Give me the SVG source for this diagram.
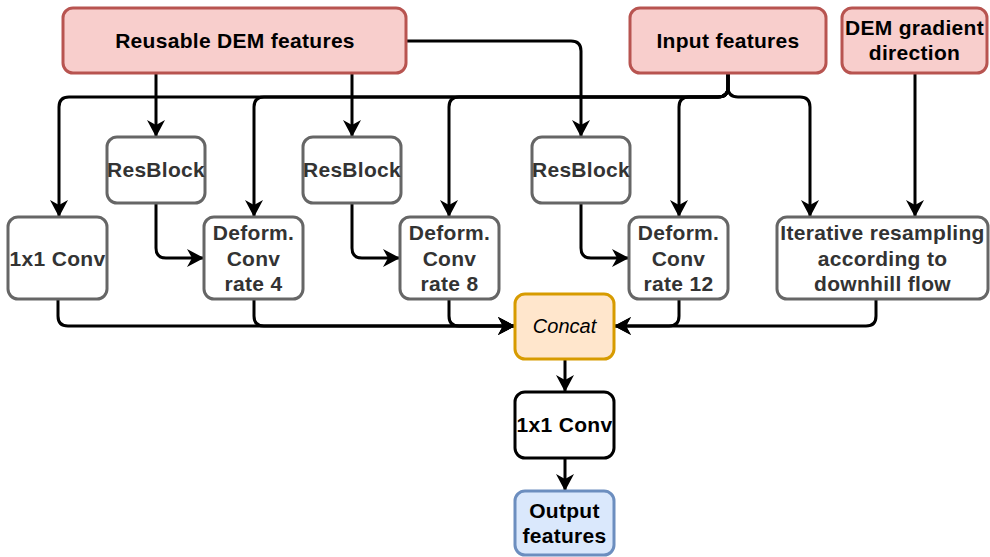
<svg xmlns="http://www.w3.org/2000/svg" width="990" height="557" viewBox="0 0 990 557">
<style>
.red{fill:#f8cecc;stroke:#b85450;stroke-width:3}
.gray{fill:#ffffff;stroke:#666666;stroke-width:3}
.blk{fill:#ffffff;stroke:#000000;stroke-width:3}
.org{fill:#ffe6cc;stroke:#d79b00;stroke-width:3}
.blu{fill:#dae8fc;stroke:#6c8ebf;stroke-width:3}
text{font-family:"Liberation Sans",Arial,sans-serif;font-size:21px;text-anchor:middle}
.b{font-weight:bold;fill:#000;letter-spacing:0.3px}
.g{font-weight:bold;fill:#333333;letter-spacing:0.3px}
.i{font-style:italic;fill:#000;font-size:20px}
.e{fill:none;stroke:#000;stroke-width:3;marker-end:url(#arr)}
</style>
<defs>
<marker id="arr" viewBox="0 0 17 18" refX="16" refY="9" markerWidth="17" markerHeight="18" markerUnits="userSpaceOnUse" orient="auto">
<path d="M0,0 L17,9 L0,18 L5,9 Z" fill="#000"/>
</marker>
</defs>
<g id="connectors">
<path class="e" d="M156,73 L156,136"/>
<path class="e" d="M352,73 L352,136"/>
<path class="e" d="M406,41 L571,41 Q581,41 581,51 L581,136"/>
<path class="e" d="M728,73 L728,87 Q728,97 718,97 L69,97 Q59,97 59,107 L59,216"/>
<path class="e" d="M728,73 L728,87 Q728,97 718,97 L264,97 Q254,97 254,107 L254,216"/>
<path class="e" d="M728,73 L728,87 Q728,97 718,97 L459,97 Q449,97 449,107 L449,216"/>
<path class="e" d="M728,73 L728,87 Q728,97 718,97 L689,97 Q679,97 679,107 L679,216"/>
<path class="e" d="M728,73 L728,87 Q728,97 738,97 L800,97 Q810,97 810,107 L810,216"/>
<path class="e" d="M915,73 L915,216"/>
<path class="e" d="M156,203 L156,248 Q156,258 166,258 L203,258"/>
<path class="e" d="M352,203 L352,248 Q352,258 362,258 L399,258"/>
<path class="e" d="M581,203 L581,248 Q581,258 591,258 L628,258"/>
<path class="e" d="M58,299 L58,316 Q58,326 68,326 L514,326"/>
<path class="e" d="M254,299 L254,316 Q254,326 264,326 L514,326"/>
<path class="e" d="M449,299 L449,316 Q449,326 459,326 L514,326"/>
<path class="e" d="M679,299 L679,316 Q679,326 669,326 L615,326"/>
<path class="e" d="M876,299 L876,316 Q876,326 866,326 L615,326"/>
<path class="e" d="M565,359 L565,391"/>
<path class="e" d="M565,458 L565,490"/>
</g>
<g id="reusable"><rect class="red" x="63" y="8" width="343" height="65" rx="10"/><text class="b" x="235" y="48">Reusable DEM features</text></g>
<g id="input"><rect class="red" x="630" y="8" width="196" height="65" rx="10"/><text class="b" x="728" y="48">Input features</text></g>
<g id="demgrad"><rect class="red" x="842" y="8" width="145" height="65" rx="10"/><text class="b" x="914.5" y="35">DEM gradient</text><text class="b" x="914.5" y="60">direction</text></g>
<g id="resblock1"><rect class="gray" x="107" y="137" width="98" height="66" rx="10"/><text class="g" x="156" y="177">ResBlock</text></g>
<g id="resblock2"><rect class="gray" x="303" y="137" width="98" height="66" rx="10"/><text class="g" x="352" y="177">ResBlock</text></g>
<g id="resblock3"><rect class="gray" x="532" y="137" width="98" height="66" rx="10"/><text class="g" x="581" y="177">ResBlock</text></g>
<g id="conv1"><rect class="gray" x="8" y="217" width="99" height="82" rx="10"/><text class="g" x="57.5" y="266">1x1 Conv</text></g>
<g id="deform4"><rect class="gray" x="204" y="217" width="99" height="82" rx="10"/><text class="g" x="253.5" y="240">Deform.</text><text class="g" x="253.5" y="266">Conv</text><text class="g" x="253.5" y="291">rate 4</text></g>
<g id="deform8"><rect class="gray" x="400" y="217" width="99" height="82" rx="10"/><text class="g" x="449.5" y="240">Deform.</text><text class="g" x="449.5" y="266">Conv</text><text class="g" x="449.5" y="291">rate 8</text></g>
<g id="deform12"><rect class="gray" x="629" y="217" width="99" height="82" rx="10"/><text class="g" x="678.5" y="240">Deform.</text><text class="g" x="678.5" y="266">Conv</text><text class="g" x="678.5" y="291">rate 12</text></g>
<g id="iterative"><rect class="gray" x="777" y="217" width="211" height="82" rx="10"/><text class="g" x="882.5" y="240">Iterative resampling</text><text class="g" x="882.5" y="266">according to</text><text class="g" x="882.5" y="291">downhill flow</text></g>
<g id="concat"><rect class="org" x="515" y="294" width="99" height="65" rx="10"/><text class="i" x="564.5" y="333">Concat</text></g>
<g id="conv2"><rect class="blk" x="515" y="392" width="99" height="66" rx="10"/><text class="b" x="564.5" y="432">1x1 Conv</text></g>
<g id="output"><rect class="blu" x="515" y="491" width="99" height="64" rx="10"/><text class="b" x="564.5" y="518">Output</text><text class="b" x="564.5" y="543">features</text></g>
</svg>
